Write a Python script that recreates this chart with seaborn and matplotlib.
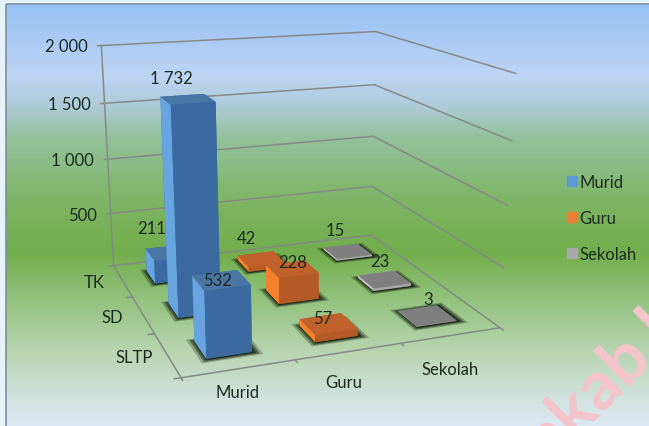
import numpy as np
import seaborn as sns
import matplotlib.pyplot as plt
from matplotlib.colors import LinearSegmentedColormap
from matplotlib.patches import Patch, Rectangle
from mpl_toolkits.mplot3d import proj3d

series = ["Murid", "Guru", "Sekolah"]
levels = ["SLTP", "SD", "TK"]
values_murid = [532, 1732, 211]
values_guru = [57, 228, 42]
values_sekolah = [3, 23, 15]
z_ticks = [500, 1000, 1500, 2000]
z_tick_labels = ["500", "1 000", "1 500", "2 000"]

sns.set_theme(style="white")
plt.rcParams["font.family"] = ["Lato", "DejaVu Sans"]
palette = sns.color_palette(["#5b9bd5", "#ed7d31", "#a9a9ad"])
text_color = "#1c2a20"

fig = plt.figure(figsize=(6.49, 4.27), dpi=100)
fig.patch.set_facecolor("#e6f3f8")

# background gradient
bg = fig.add_axes([0, 0, 1, 1], zorder=0)
stops = [(0.0, "#97c1f4"), (0.17, "#bed4f5"), (0.24, "#aecbd8"), (0.31, "#94c29e"),
         (0.47, "#7db463"), (0.59, "#72ae4c"), (0.70, "#92c27d"), (0.82, "#b7d4ae"),
         (0.94, "#d2e3e0"), (1.0, "#dce9f3")]
cmap = LinearSegmentedColormap.from_list("back", stops)
bg.imshow(np.linspace(0, 1, 256).reshape(-1, 1), cmap=cmap, aspect="auto",
          extent=(6, 649, 427, 5))
bg.set_xlim(0, 649)
bg.set_ylim(427, 0)
bg.axis("off")
bg.add_patch(Rectangle((6, 5), 660, 440, fill=False, ec="#7f8fa0", lw=1.2))
bg.text(598, 385, "nkab.l", rotation=45, ha="center", va="center", fontsize=50,
        fontweight="bold", color="#f5c4cc", clip_on=True)

# camera fitted to the floor corners of the picture
size = 900
focal = 1065 * 0.185 / size
left = (292 - 0.5135 * size) / 649
bottom = (427 - 225 - 0.5135 * size) / 427
ax = fig.add_axes([left, bottom, size / 649, size / 427], projection="3d",
                  computed_zorder=False, zorder=1)
ax.patch.set_visible(False)
ax.set_axis_off()
ax.set_xlim(0, 3, view_margin=0)
ax.set_ylim(0, 3, view_margin=0)
ax.set_zlim(-748, 2000, view_margin=0)
ax.set_box_aspect((0.775, 0.745, 0.83), zoom=10 * focal / 2.665 / 1.405)
ax.set_proj_type("persp", focal_length=focal)
ax.view_init(elev=17.7, azim=-110.0, roll=0.1)

# walls and floor
grid = dict(color="#848a86", lw=1.1, zorder=1)
for z in z_ticks:
    ax.plot([0, 3], [3, 3], [z, z], **grid)
    ax.plot([3, 3], [3, 0], [z, z], **grid)
    ax.plot([-0.04, 0], [3, 3], [z, z], **grid)
ax.plot([0, 0], [3, 3], [0, 2000], **grid)
ax.plot([0, 3, 3, 0, 0], [0, 0, 3, 3, 0], [0, 0, 0, 0, 0], **grid)
for t in range(4):
    ax.plot([t, t], [0, -0.06], [0, 0], **grid)
    ax.plot([0, -0.06], [t, t], [0, 0], **grid)

# bars
width = 0.41
xs, ys, hs, face_colors = [], [], [], []
all_values = [values_murid, values_guru, values_sekolah]
face_sets = [
    ["#3a6b9f", "#4a76a6", "#3a6a9f", "#3a6a9f", "#68a5e0", "#3a6a9f"],
    ["#a85522", "#c0602a", "#b55b26", "#b55b26", "#f4812c", "#b55b26"],
    ["#6f6f6f", "#7f7f80", "#a8a8a8", "#a8a8a8", "#c4c4c4", "#a8a8a8"],
]
for i, vals in enumerate(all_values):
    for j, v in enumerate(vals):
        xs.append(i + 0.5 - width / 2)
        ys.append(j + 0.5 - width / 2)
        hs.append(v)
        face_colors.extend(face_sets[i])
xs, ys, hs = np.array(xs), np.array(ys), np.array(hs, dtype=float)

# blurred floor shadow
for pad, alpha in [(0.07, 0.15), (0.045, 0.28), (0.02, 0.5)]:
    ax.bar3d(xs - pad + 0.01, ys - pad - 0.01, np.zeros(9), width + 2 * pad, width + 2 * pad,
             np.full(9, 0.1), color=(0.08, 0.12, 0.06, alpha), shade=False, zorder=2,
             edgecolor="none", linewidth=0)

ax.bar3d(xs, ys, np.zeros(9), width, width, hs, color=face_colors, shade=False, zorder=3,
         edgecolor="none", linewidth=0)

# value labels, nudged like the original in pixels
M = ax.get_proj()
nudge = [[(-4, 0), (-16, 21), (-18, 24)],
         [(-6, 6), (1, 7), (-15, 21)],
         [(1, 17), (-4, 18), (-12, 21)]]
for i, vals in enumerate(all_values):
    for j, v in enumerate(vals):
        px, py, _ = proj3d.proj_transform(i + 0.5, j + 0.5, v, M)
        label = f"{v:,}".replace(",", " ")
        ax.annotate(label, (px, py), xytext=nudge[i][j], textcoords="offset pixels",
                    ha="center", va="center", fontsize=12, color=text_color,
                    zorder=6, annotation_clip=False)

# axis labels
x_label_at = [(0.36, -0.42), (1.23, -0.55), (2.16, -0.64)]
for (lx, ly), name in zip(x_label_at, series):
    ax.text(lx, ly, 0, name, ha="center", va="center", fontsize=12,
            color=text_color, zorder=6)
for j, name in enumerate(levels):
    ax.text(-0.28, j + 0.55, 0, name, ha="center", va="center", fontsize=12,
            color=text_color, zorder=6)
for z, label in zip(z_ticks, z_tick_labels):
    ax.text(-0.14, 3, z, label, ha="right", va="center", fontsize=12,
            color=text_color, zorder=6)

handles = [Patch(color=c, label=n) for c, n in zip(palette, series)]
fig.legend(handles=handles, loc="center left", bbox_to_anchor=(552 / 649, 1 - 219 / 427),
           frameon=False, handlelength=0.6, handleheight=0.6, handletextpad=0.15,
           labelspacing=1.2, fontsize=12, labelcolor=text_color)

fig.savefig("out.png", dpi=100, facecolor=fig.get_facecolor())
